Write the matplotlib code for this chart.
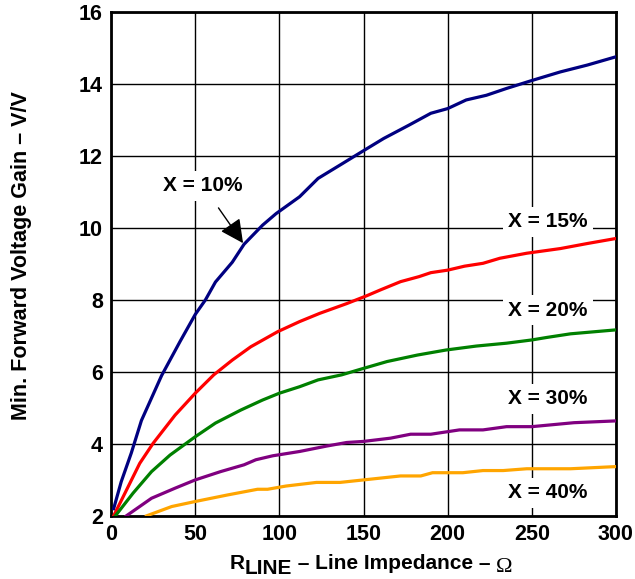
import matplotlib
matplotlib.use("Agg")
import matplotlib.pyplot as plt

plt.rcParams['font.family'] = ['Liberation Sans', 'DejaVu Sans']
plt.rcParams['font.weight'] = 'bold'
plt.rcParams['axes.labelweight'] = 'bold'

# line impedance (ohm) and minimum forward voltage gain (V/V) per distortion level
r_10 = [1.5, 6, 12, 18, 30, 41, 50, 56, 62, 72, 79, 90, 98, 112, 123, 136, 150, 162,
        177, 190, 200, 211, 223, 235, 250, 267, 283, 300]
g_10 = [2.2, 2.95, 3.75, 4.65, 5.9, 6.85, 7.6, 8.0, 8.5, 9.05, 9.55, 10.08, 10.4, 10.87,
        11.38, 11.75, 12.15, 12.49, 12.86, 13.19, 13.32, 13.56, 13.69, 13.88, 14.1, 14.34,
        14.53, 14.76]

r_15 = [1.5, 10, 17, 25, 38, 50, 61, 72, 83, 99, 112, 124, 140, 152, 160, 172, 183, 190,
        200, 210, 221, 231, 247, 267, 283, 300]
g_15 = [2.0, 2.8, 3.46, 4.02, 4.8, 5.41, 5.92, 6.33, 6.7, 7.12, 7.4, 7.63, 7.9, 8.12,
        8.28, 8.51, 8.65, 8.76, 8.83, 8.94, 9.02, 9.16, 9.3, 9.43, 9.57, 9.71]

r_20 = [2.5, 13, 24, 35, 50, 62, 77, 90, 100, 112, 123, 137, 150, 164, 182, 199, 217,
        235, 250, 259, 273, 300]
g_20 = [2.0, 2.63, 3.23, 3.69, 4.2, 4.58, 4.94, 5.22, 5.41, 5.59, 5.78, 5.92, 6.1, 6.29,
        6.47, 6.61, 6.72, 6.8, 6.89, 6.96, 7.06, 7.17]

r_30 = [9, 24, 38, 50, 65, 79, 86, 96, 112, 128, 140, 150, 166, 178, 190, 207, 221, 235,
        250, 275, 300]
g_30 = [2.0, 2.49, 2.77, 3.0, 3.23, 3.42, 3.56, 3.67, 3.79, 3.94, 4.04, 4.07, 4.16, 4.27,
        4.27, 4.39, 4.39, 4.48, 4.48, 4.59, 4.64]

r_40 = [21, 36, 50, 69, 87, 93, 104, 122, 136, 150, 172, 184, 191, 209, 221, 233, 247,
        273, 300]
g_40 = [2.0, 2.26, 2.4, 2.58, 2.74, 2.74, 2.83, 2.93, 2.93, 3.0, 3.11, 3.11, 3.2, 3.2,
        3.26, 3.26, 3.31, 3.31, 3.37]

fig = plt.figure(figsize=(6.35, 5.79), dpi=100)
ax = fig.add_axes([0.175, 0.109, 0.795, 0.870])

ax.plot(r_10, g_10, color='#000080', lw=2.3, zorder=3)
ax.plot(r_15, g_15, color='#ff0000', lw=2.3, zorder=3)
ax.plot(r_20, g_20, color='#008000', lw=2.3, zorder=3)
ax.plot(r_30, g_30, color='#800080', lw=2.3, zorder=3)
ax.plot(r_40, g_40, color='#ffa500', lw=2.3, zorder=3)

ax.set_xlim(0, 300)
ax.set_ylim(2, 16)
ax.set_xticks(range(0, 301, 50))
ax.set_yticks(range(2, 17, 2))
ax.grid(True, color='black', lw=1.0)
ax.set_axisbelow(True)
ax.tick_params(length=0, labelsize=15.5, pad=6)
for s in ax.spines.values():
    s.set_linewidth(2.0)

ax.set_ylabel('Min. Forward Voltage Gain – V/V', fontsize=15.5)
ax.yaxis.set_label_coords(-0.156, 0.516)

# x label: R with a lowered LINE, then the rest (bottoms chained, so va='bottom')
t1 = ax.text(0.234, -0.114, 'R', transform=ax.transAxes, fontsize=15,
             ha='left', va='bottom')
t2 = ax.annotate('LINE', xy=(1, 0), xycoords=t1, xytext=(0, -3.4),
                 textcoords='offset points', fontsize=15, va='bottom')
t3 = ax.annotate(' – Line Impedance – ', xy=(1, 0), xycoords=t2, xytext=(0, 3.4),
                 textcoords='offset points', fontsize=15, va='bottom')
ax.annotate('Ω', xy=(1, 0), xycoords=t3, xytext=(0, -3), textcoords='offset points',
            fontsize=16, va='bottom', family='Liberation Serif', fontweight='normal')

box = dict(facecolor='white', edgecolor='none', pad=4)
ax.annotate('X = 10%', xy=(78.4, 9.58), xytext=(54.7, 11.17), fontsize=15,
            ha='center', va='center', bbox=box, zorder=4,
            arrowprops=dict(arrowstyle='-|>', color='black', lw=1.0,
                            mutation_scale=36, shrinkA=6, shrinkB=0))
ax.text(259.6, 10.17, 'X = 15%', fontsize=15, ha='center', va='center', bbox=box, zorder=4)
ax.text(259.6, 7.72, 'X = 20%', fontsize=15, ha='center', va='center', bbox=box, zorder=4)
ax.text(259.6, 5.25, 'X = 30%', fontsize=15, ha='center', va='center', bbox=box, zorder=4)
ax.text(259.6, 2.64, 'X = 40%', fontsize=15, ha='center', va='center', bbox=box, zorder=4)

fig.savefig('out.png', dpi=100)
